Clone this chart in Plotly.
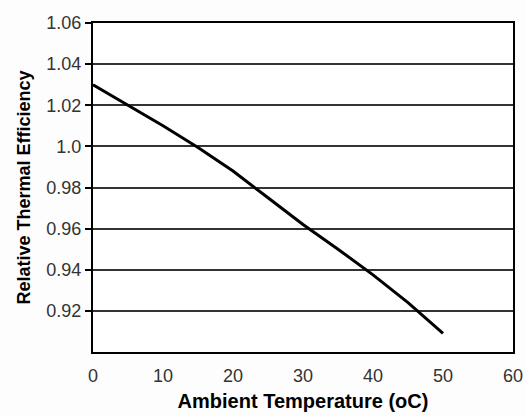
import plotly.graph_objects as go

temperature = [0, 5, 10, 15, 20, 25, 30, 35, 40, 45, 50]
efficiency = [1.03, 1.02, 1.01, 0.9995, 0.988, 0.975, 0.962, 0.950, 0.9375, 0.924, 0.909]

y_tick_vals = [0.92, 0.94, 0.96, 0.98, 1.0, 1.02, 1.04, 1.06]
y_tick_text = ["0.92", "0.94", "0.96", "0.98", "1.0", "1.02", "1.04", "1.06"]
x_tick_vals = [0, 10, 20, 30, 40, 50, 60]

fig = go.Figure()
fig.add_trace(go.Scatter(x=temperature, y=efficiency, mode="lines",
                         line=dict(color="black", width=3), showlegend=False))

font_family = "Liberation Sans, Arial, sans-serif"
fig.update_layout(
    width=526, height=416,
    margin=dict(l=93, r=13, t=23, b=64),
    paper_bgcolor="#fdfdfd", plot_bgcolor="white",
    font=dict(family=font_family, color="#222", size=16),
    xaxis=dict(range=[0, 60], tickvals=x_tick_vals, showgrid=False, zeroline=False,
               showline=True, linecolor="black", linewidth=2, mirror=True,
               automargin=False,
               ticks="outside", ticklen=6, tickcolor="rgba(0,0,0,0)",
               tickfont=dict(size=18, color="#333"),
               title=dict(text="<b>Ambient Temperature (oC)</b>", font=dict(size=20, color="black"), standoff=9)),
    yaxis=dict(range=[0.9, 1.06], tickvals=y_tick_vals, ticktext=y_tick_text,
               showgrid=True, gridcolor="#333", gridwidth=1.5, zeroline=False,
               showline=True, linecolor="black", linewidth=2, mirror=True,
               automargin=False,
               ticks="outside", ticklen=6, tickcolor="black", tickwidth=1.5,
               tickfont=dict(size=18, color="#333"),
               title=dict(text="<b>Relative Thermal Efficiency</b>", font=dict(size=18, color="black"), standoff=11)),
)
fig.write_html("out.html")
